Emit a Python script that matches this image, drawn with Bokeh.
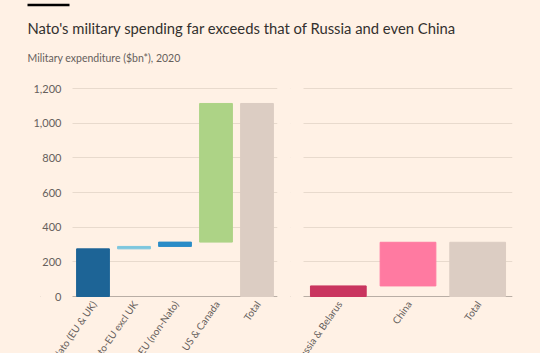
import math
from bokeh.plotting import figure
from bokeh.core.properties import value
from bokeh.models import (ColumnDataSource, Range1d, FixedTicker, Label,
                          BoxAnnotation, NumeralTickFormatter, Span)
from bokeh.layouts import column, row
from bokeh.embed import file_html
from bokeh.resources import INLINE

# ---------------- data ----------------
title_text = "Nato's military spending far exceeds that of Russia and even China"
subtitle_text = "Military expenditure ($bn*), 2020"

nato_categories = ["Nato (EU & UK)", "Nato-EU excl UK", "EU (non-Nato)", "US & Canada", "Total"]
nato_steps = [275, 14, 25, 800]          # waterfall increments, $bn
nato_colors = ["#1d6496", "#7cc6de", "#2a8cc7", "#add386", "#dccdc3"]

rival_categories = ["Russia & Belarus", "China", "Total"]
rival_steps = [61, 252]
rival_colors = ["#c9355f", "#ff7aa1", "#dccdc3"]

y_ticks = [0, 200, 400, 600, 800, 1000, 1200]

# ---------------- styling / geometry ----------------
BG = "#fff1e5"
GRID = "#e8dacd"
TEXT = "#66605c"
FONT = "Lato"
Y_END = 1212
PLOT_PX = 210            # pixels between 0 and Y_END
BELOW_PX = 57            # pixels of label room below the zero line
UNITS_PER_PX = Y_END / PLOT_PX
Y_START = -BELOW_PX * UNITS_PER_PX
LABEL_ANGLE = math.radians(55)


def waterfall(steps):
    bottoms, tops, acc = [], [], 0
    for s in steps:
        bottoms.append(acc)
        acc += s
        tops.append(acc)
    bottoms.append(0)
    tops.append(acc)
    return bottoms, tops


def style_bg(p):
    p.background_fill_color = BG
    p.border_fill_color = BG
    p.outline_line_color = None


def make_panel(cats, steps, colors, width, frame_left, grid_left, frame_right, show_y):
    """frame_left: where the drawing area starts (room for clipped labels);
    grid_left..frame_right: the span covered by the categories."""
    n = len(cats)
    px_per_cat = (frame_right - grid_left) / n
    x_start = (n - 0.5) - (frame_right - frame_left) / px_per_cat
    xs = list(range(n))
    bottoms, tops = waterfall(steps)
    src = ColumnDataSource(dict(x=xs, bottom=bottoms, top=tops, color=colors, text=cats))
    p = figure(x_range=Range1d(x_start, n - 0.5), y_range=Range1d(Y_START, Y_END),
               width=width, height=11 + PLOT_PX + BELOW_PX,
               output_backend="svg", toolbar_location=None,
               min_border_left=frame_left, min_border_right=width - frame_right,
               min_border_top=11, min_border_bottom=0)
    style_bg(p)
    p.xaxis.visible = False
    p.xgrid.visible = False
    p.ygrid.ticker = FixedTicker(ticks=y_ticks)
    p.ygrid.grid_line_color = GRID
    p.ygrid.grid_line_width = 1.2

    p.add_layout(Span(location=0, dimension="width", line_color="#b9aea5",
                      line_width=1.2, level="underlay"))
    # keep gridlines / baseline to the categories' span only
    p.add_layout(BoxAnnotation(right=-0.5, fill_color=BG, fill_alpha=1,
                               line_color=None, level="underlay"))

    p.vbar(x="x", bottom="bottom", top="top", width=0.8, color="color", source=src)

    ya = p.yaxis[0]
    ya.ticker = FixedTicker(ticks=y_ticks)
    ya.formatter = NumeralTickFormatter(format="0,0")
    ya.axis_line_color = None
    ya.major_tick_line_color = None
    ya.minor_tick_line_color = None
    ya.major_tick_out = 0
    ya.major_tick_in = 0
    ya.major_label_standoff = frame_left - 61
    ya.major_label_text_font = FONT
    ya.major_label_text_font_size = "11px"
    ya.major_label_text_color = TEXT
    if not show_y:
        ya.visible = False

    # rotated category labels just under the zero line
    p.text(x="x", y=-5.5 * UNITS_PER_PX, text="text", source=src, angle=LABEL_ANGLE,
           text_align="right", text_baseline="middle", x_offset=1,
           text_font=value(FONT), text_font_size="10px", text_color=TEXT)
    return p


left = make_panel(nato_categories, nato_steps, nato_colors, 290, 40, 72, 277, True)
right = make_panel(rival_categories, rival_steps, rival_colors, 250, 0, 13, 222, False)

# ---------------- header ----------------
head = figure(width=540, height=75, x_range=Range1d(0, 540), y_range=Range1d(75, 0),
              output_backend="svg", toolbar_location=None, min_border=0)
head.axis.visible = False
head.grid.visible = False
style_bg(head)
head.add_layout(BoxAnnotation(left=27, right=69, top=3.3, bottom=5.8,
                              fill_color="#000000", fill_alpha=1, line_color=None))
head.add_layout(Label(x=27, y=27.5, text=title_text, text_font=FONT,
                      text_font_size="14.8px", text_color="#33302e",
                      text_baseline="alphabetic"))
head.add_layout(Label(x=27, y=57.5, text=subtitle_text, text_font=FONT,
                      text_font_size="10.5px", text_color=TEXT,
                      text_baseline="alphabetic"))

layout = column(head, row(left, right, spacing=0), spacing=0)
layout.styles = {"background-color": BG}

open("out.html", "w").write(file_html(layout, INLINE))
